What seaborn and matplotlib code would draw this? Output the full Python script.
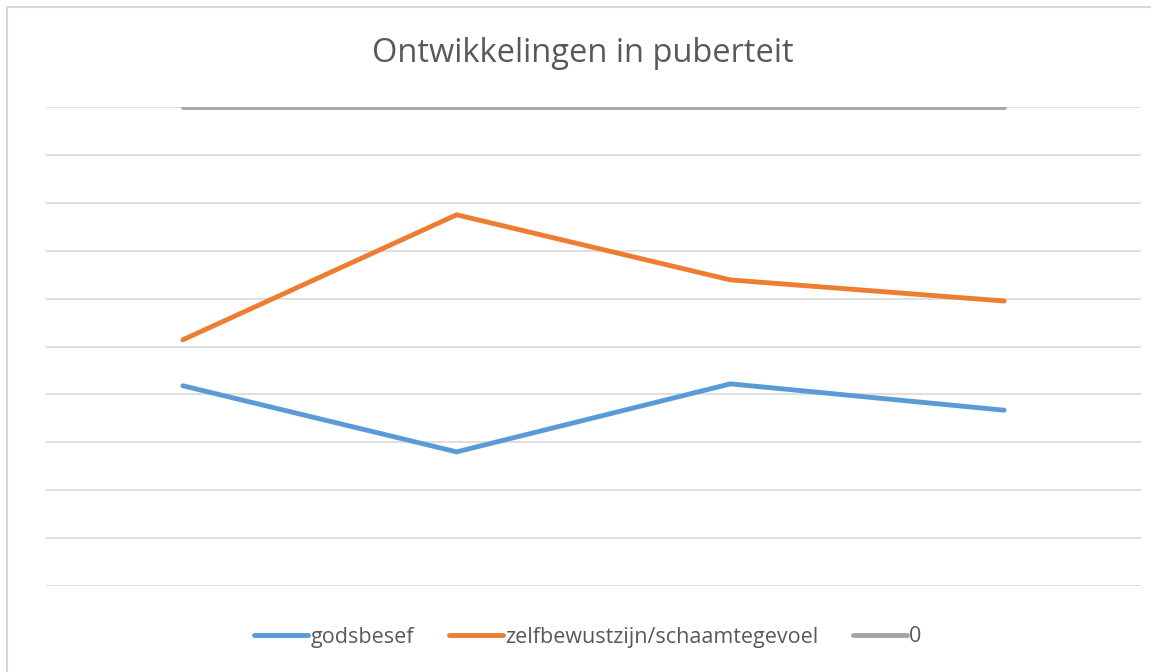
import pandas as pd
import seaborn as sns
import matplotlib.pyplot as plt
from matplotlib.patches import Rectangle

# Gegevens (schaal 0-10, geen aslabels zichtbaar)
categories = ["1", "2", "3", "4"]
godsbesef = [4.18, 2.80, 4.22, 3.67]
zelfbewustzijn = [5.14, 7.75, 6.39, 5.95]
nul = [10, 10, 10, 10]
series_names = ["godsbesef", "zelfbewustzijn/schaamtegevoel", "0"]
colors = ["#5B9BD5", "#ED7D31", "#A5A5A5"]

df = pd.DataFrame({
    "cat": list(range(len(categories))) * 3,
    "waarde": godsbesef + zelfbewustzijn + nul,
    "reeks": [series_names[0]] * 4 + [series_names[1]] * 4 + [series_names[2]] * 4,
})

sns.set_style("white")
plt.rcParams['font.family'] = ['Open Sans', 'DejaVu Sans']

fig = plt.figure(figsize=(11.51, 6.72), dpi=100)
ax = fig.add_axes([46 / 1151, 1 - 586 / 672, (1141 - 46) / 1151, (586 - 107) / 672])

sns.lineplot(data=df, x="cat", y="waarde", hue="reeks", palette=colors,
             hue_order=series_names, linewidth=3.5, ax=ax, legend=False)
for line in ax.lines:
    line.set_solid_capstyle("round")
    line.set_solid_joinstyle("miter")

ax.set_xlim(-0.5, len(categories) - 0.5)
ax.set_ylim(0, 10)
ax.set_yticks(range(0, 11))
ax.grid(axis="y", color="#D9D9D9", linewidth=1.2)
ax.set_axisbelow(True)
ax.tick_params(left=False, bottom=False, labelleft=False, labelbottom=False)
ax.set_xlabel("")
ax.set_ylabel("")
sns.despine(ax=ax, left=True, bottom=True)

# rand van het grafiekgebied
fig.patches.append(Rectangle((7 / 1151, -0.1), 1.5, 1 - 7 / 672 + 0.1,
                             transform=fig.transFigure, fill=False,
                             edgecolor="#D9D9D9", linewidth=1.5))

fig.text(583 / 1151, 1 - 54 / 672, "Ontwikkelingen in puberteit",
         ha="center", va="center", fontsize=23.5, color="#595959")

handles = [plt.Line2D([], [], color=c, linewidth=3.5, solid_capstyle="round") for c in colors]
fig.legend(handles, series_names, loc="center", bbox_to_anchor=(588 / 1151, 1 - 637 / 672),
           ncol=3, frameon=False, fontsize=15.5, handlelength=2.5, handletextpad=0.12,
           columnspacing=1.6, labelcolor="#595959")

fig.savefig("out.png", dpi=100)
